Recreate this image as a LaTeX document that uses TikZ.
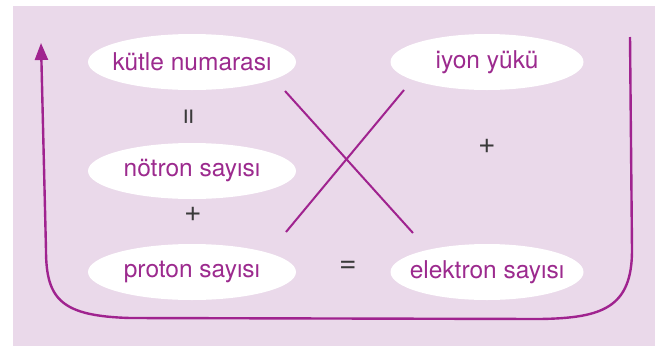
\documentclass[tikz,border=0pt]{standalone}
\usepackage{fontspec}
\setmainfont{TeX Gyre Heros}
\usetikzlibrary{shapes.geometric,arrows.meta}
\definecolor{panel}{HTML}{EAD9EA}
\definecolor{plum}{HTML}{A0238F}
\definecolor{plumtext}{HTML}{9C2A8E}
\definecolor{sym}{HTML}{3A3A3A}
% zero-width box so the ellipse size is fixed by the style alone
\newcommand\bubbletext[1]{\makebox[0pt][c]{#1}}
\tikzset{
  bubble/.style={ellipse, fill=white, draw=none, minimum width=208pt, minimum height=56pt,
    inner sep=0pt, text=plumtext, font=\fontsize{24.5}{28}\selectfont},
  bubblesm/.style={bubble, minimum width=193pt},
  opsym/.style={text=sym, font=\fontsize{30}{34}\selectfont, inner sep=0pt},
  link/.style={draw=plum, line width=2pt},
  loop/.style={draw=plum, line width=2.4pt, -{Triangle[width=13pt,length=17pt]}}
}
\begin{document}
\begin{tikzpicture}[x=1pt,y=-1pt]
  \useasboundingbox (0,0) rectangle (655,346);
  \fill[panel] (13,6) rectangle (655,346);

  % concept bubbles
  \node[bubble]   (kutle)    at (192,62)  {\bubbletext{kütle numarası}};
  \node[bubblesm] (iyon)     at (487,62)  {\bubbletext{iyon yükü}};
  \node[bubble]   (notron)   at (192,171) {\bubbletext{nötron sayısı}};
  \node[bubble]   (proton)   at (192,272) {\bubbletext{proton sayısı}};
  \node[bubblesm] (elektron) at (487,272) {\bubbletext{elektron sayısı}};

  % operators between bubbles
  \node[opsym, rotate=90] (eqa) at (191,117) {=};
  \node[opsym] (plusa) at (193,214) {+};
  \node[opsym] (eqb)   at (348,267) {=};
  \node[opsym] (plusb) at (487,146) {+};

  % crossing links
  \coordinate (xa1) at (285,91);
  \coordinate (xa2) at (413,233);
  \coordinate (xb1) at (404,90);
  \coordinate (xb2) at (286,232);
  \draw[link] (xa1) -- (xa2);
  \draw[link] (xb1) -- (xb2);

  % return loop around the diagram
  \coordinate (loopstart) at (630,37);
  \coordinate (loopend)   at (41,43);
  \draw[loop] (loopstart) -- (632,250)
    .. controls (632,308) and (602,318) .. (540,319)
    -- (130,318)
    .. controls (62,316) and (46,300) .. (46,250)
    -- (loopend);
\end{tikzpicture}
\end{document}
